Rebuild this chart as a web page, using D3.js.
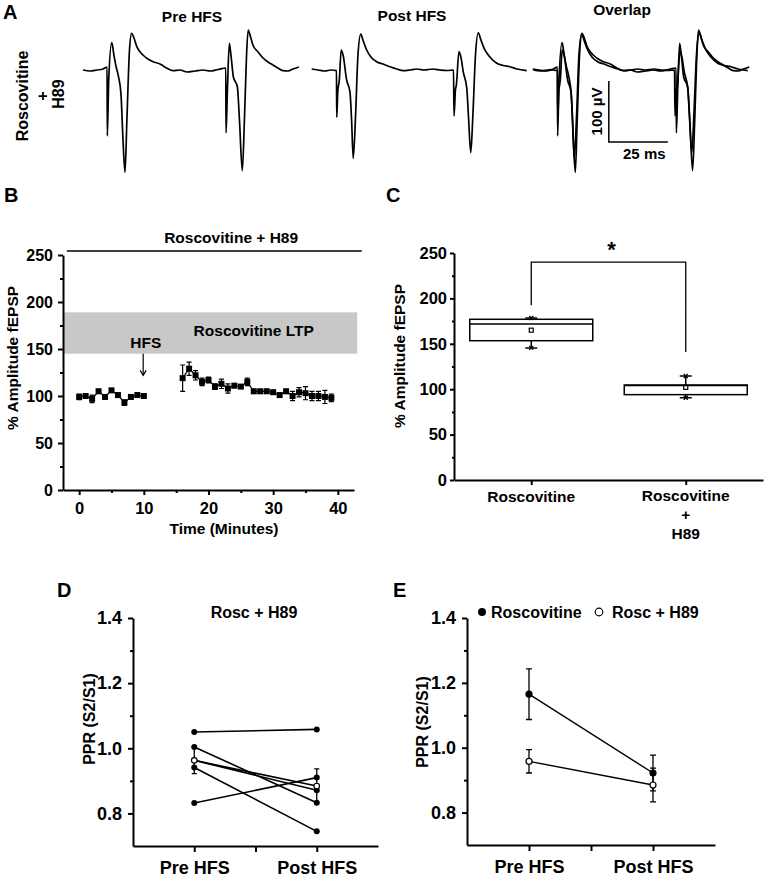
<!DOCTYPE html>
<html><head><meta charset="utf-8">
<script src="https://cdn.jsdelivr.net/npm/d3@7"></script>
<style>
body{margin:0;background:#fff;}
svg{display:block;font-family:"Liberation Sans",Arial,Helvetica,sans-serif;font-weight:bold;}
</style></head><body>
<svg id="fig" width="765" height="877"></svg>
<script>
// ---------------- DATA ----------------
// Panel A: field potential traces, [time ms, amplitude µV]
const preHFSTrace = [[0,0],[3.0,-1.6],[5.9,0],[8.5,1.6],[10.2,4.9],[10.3,-108],[10.9,-16],[12.2,44.8],[13.1,24.6],[14.0,6],[15.0,-10],[16.1,-40],[16.9,-110],[17.8,-168],[18.6,-82],[19.7,32.8],[20.6,60.2],[21.6,52.5],[22.8,38.2],[24.2,29.5],[25.4,24.6],[27.5,18.0],[29.7,13.6],[32.6,9.8],[35.6,2.8],[38.1,-1.1],[41.1,0],[44.1,-3.3],[47.5,-1.6],[50.8,0],[53.8,-1.6],[57.2,0.8],[60.5,3.3],[60.6,-103],[61.2,-32.8],[62.0,43.8],[62.7,24.6],[63.7,-11],[65.4,-27.4],[66.3,-82],[67.5,-165],[68.4,-82],[69.3,24.6],[70.0,65.6],[71.0,54.1],[72.0,41],[74.2,29.5],[76.3,19.7],[78.4,13.1],[80.5,8.2],[82.6,3.3],[84.7,-1.1],[86.9,-1.6],[89.0,1.6],[91.5,4.9]];
const postHFSTrace = [[0,1.6],[2.7,0],[5.6,-1.6],[8.2,0],[10.5,-1.1],[10.6,-77.5],[11.1,-32.8],[11.4,-24.6],[11.7,-16.4],[12.5,32.8],[13.3,24.6],[14.8,-16.4],[16.2,-35.6],[16.9,-82],[17.6,-144.8],[18.6,-73.8],[19.6,24.6],[20.8,59],[21.7,49.2],[23.3,32.8],[25.1,21.3],[27.5,13.6],[30.2,9.8],[33.2,5.4],[36.1,1.6],[38.7,-1.1],[41.7,0],[44.4,1.6],[47.6,0],[51.4,1.6],[54.4,0],[57.3,-0.8],[60.1,0],[60.3,-75.4],[60.9,-32.8],[61.3,-24.6],[62.4,30],[63.3,19.7],[64.2,-2.8],[65.7,-29.5],[66.4,-73.8],[67.4,-135.6],[68.3,-73.8],[69.4,24.6],[70.6,61.1],[71.7,49.2],[73.4,32.8],[75.5,21.3],[78.4,11],[81.1,7.4],[84,5.4],[87,1.6],[91.1,-1.1]];
const scaleBarMs = [32, 57];      // 25 ms
const scaleBarUv = [-18, -118];   // 100 µV

// Panel B: time course
const bPreTime = [0,1,2,3,4,5,6,7,8,9,10];
const bPreAmp  = [99,100,97,105,99,106,101,93,99,101,100];
const bPreErr  = [3,2,4,2,2,2,2,3,2,2,2];
const bPostTime = [16,17,18,19,20,21,22,23,24,25,26,27,28,29,30,31,32,33,34,35,36,37,38,39];
const bPostAmp  = [119,129,122,115,117,110,113,108,111,110,115,105,105,105,104,101,105,100,104,103,100,100,99,98];
const bPostErr  = [14,7,5,4,3,3,5,5,2,2,4,2,2,2,2,2,2,5,5,7,5,5,7,4];
const bLTPBand = [145, 189];
const bYTicks = [0,50,100,150,200,250];
const bXTicks = [0,10,20,30,40];

// Panel C: box plot
const cCategories = ["Roscovitine", "Roscovitine + H89"];
const cMin    = [145.5, 90.5];
const cQ1     = [153.4, 94];
const cMedian = [171.8, 104];
const cQ3     = [177, 104.6];
const cMax    = [178.5, 114.5];
const cMean   = [165, 102];
const cYTicks = [0,50,100,150,200,250];

// Panel D: individual PPR
const ppCategories = ["Pre HFS", "Post HFS"];
const dPre  = [1.050, 1.004, 0.963, 0.941, 0.832];
const dPost = [1.058, 0.833, 0.871, 0.745, 0.910];
const dMean = [0.963, 0.884];
const dSem  = [0.041, 0.053];
// Panel E: mean PPR
const eRoscMean = [1.165, 0.922];
const eRoscSem  = [0.078, 0.055];
const eH89Mean  = [0.958, 0.885];
const eH89Sem   = [0.036, 0.052];
const pprTicks = [0.8, 1.0, 1.2, 1.4];

// ---------------- DRAWING ----------------
const svg = d3.select("#fig");
const FONT = '"Liberation Sans",Arial,Helvetica,sans-serif';

function txt(x, y, s, size, anchor, rot) {
  const t = svg.append("text").attr("x", x).attr("y", y).text(s)
    .attr("font-size", size).attr("font-weight", "bold").attr("fill", "#000")
    .attr("text-anchor", anchor || "middle");
  if (rot) t.attr("transform", `rotate(${rot},${x},${y})`);
  return t;
}
function styleAxis(g, size) {
  g.attr("font-family", null).attr("font-size", null);
  g.select(".domain").attr("stroke-width", 2).attr("stroke", "#000");
  g.selectAll(".tick line").attr("stroke-width", 2).attr("stroke", "#000");
  g.selectAll(".tick text").attr("font-size", size).attr("font-weight", "bold").attr("fill", "#000").attr("font-family", FONT);
}
function minor(g) { g.select(".domain").remove(); g.selectAll(".tick line").attr("stroke-width", 2).attr("stroke","#000"); }

// Panel letters
txt(3, 19, "A", 20, "start");
txt(4, 202, "B", 20, "start");
txt(386, 202, "C", 20, "start");
txt(57, 597, "D", 20, "start");
txt(393, 597, "E", 20, "start");

// ---- Panel A ----
txt(22, 96, "Roscovitine", 16, "middle", -90).attr("dominant-baseline", "central");
txt(42, 96, "+", 16, "middle", -90).attr("dominant-baseline", "central");
txt(58, 94, "H89", 16, "middle", -90).attr("dominant-baseline", "central");
txt(192, 22, "Pre HFS", 15.5);
txt(412, 21, "Post HFS", 15.5);
txt(622, 15, "Overlap", 15.5);

const pxPerMs = 59 / 25, pxPerUv = 61 / 100, baseY = 70;
function traceScales(x0) {
  return {
    x: d3.scaleLinear().domain([0, 100]).range([x0, x0 + 100 * pxPerMs]),
    y: d3.scaleLinear().domain([0, -100]).range([baseY, baseY + 100 * pxPerUv])
  };
}
function drawTrace(data, x0) {
  const s = traceScales(x0);
  svg.append("path").datum(data)
    .attr("d", d3.line().curve(d3.curveMonotoneX).x(d => s.x(d[0])).y(d => s.y(d[1])))
    .attr("fill", "none").attr("stroke", "#000").attr("stroke-width", 1.7)
    .attr("stroke-linejoin", "round");
}
drawTrace(preHFSTrace, 83);
drawTrace(postHFSTrace, 311.7);
drawTrace(postHFSTrace, 532.7);
drawTrace(preHFSTrace, 533.3);
{
  const s = traceScales(533.3);
  svg.append("path")
    .attr("d", `M${s.x(scaleBarMs[0])},${s.y(scaleBarUv[0])}V${s.y(scaleBarUv[1])}H${s.x(scaleBarMs[1])}`)
    .attr("fill", "none").attr("stroke", "#000").attr("stroke-width", 1.5);
  txt(s.x(scaleBarMs[0]) - 12, (s.y(scaleBarUv[0]) + s.y(scaleBarUv[1])) / 2, "100 \u00B5V", 15, "middle", -90).attr("dominant-baseline", "central");
  txt((s.x(scaleBarMs[0]) + s.x(scaleBarMs[1])) / 2 + 6, s.y(scaleBarUv[1]) + 17, "25 ms", 15);
}

// ---- Panel B ----
{
  const x = d3.scaleLinear().domain([-2.5, 42.5]).range([63, 354]);
  const y = d3.scaleLinear().domain([0, 250]).range([490, 255]);
  svg.append("rect").attr("x", x(-2.5)).attr("width", x(43) - x(-2.5))
    .attr("y", y(bLTPBand[1])).attr("height", y(bLTPBand[0]) - y(bLTPBand[1]))
    .attr("fill", "#c8c8c8");
  txt(x(27), y(170) + 6, "Roscovitine LTP", 15.5);
  txt(x(10.3), y(157) + 6, "HFS", 15.5);
  svg.append("line").attr("x1", x(9.9)).attr("x2", x(9.9)).attr("y1", y(145)).attr("y2", y(122))
    .attr("stroke", "#000").attr("stroke-width", 1.2);
  svg.append("path").attr("d", `M${x(9.9)-3},${y(122)-5}L${x(9.9)},${y(122)}L${x(9.9)+3},${y(122)-5}`)
    .attr("fill", "none").attr("stroke", "#000").attr("stroke-width", 1.2);
  txt(x(23.5), 243, "Roscovitine + H89", 15.5);
  svg.append("line").attr("x1", x(-1.9)).attr("x2", x(43.7)).attr("y1", 251).attr("y2", 251)
    .attr("stroke", "#000").attr("stroke-width", 1.5);
  const gy = svg.append("g").attr("transform", `translate(${x(-2.5)},0)`)
    .call(d3.axisLeft(y).tickValues(bYTicks).tickSize(5).tickPadding(5).tickSizeOuter(0));
  styleAxis(gy, 16);
  minor(svg.append("g").attr("transform", `translate(${x(-2.5)},0)`)
    .call(d3.axisLeft(y).tickValues([25,75,125,175,225]).tickSize(3).tickFormat("")));
  const gx = svg.append("g").attr("transform", `translate(0,${y(0)})`)
    .call(d3.axisBottom(x).tickValues(bXTicks).tickSize(5).tickPadding(7).tickSizeOuter(0));
  styleAxis(gx, 16.5);
  minor(svg.append("g").attr("transform", `translate(0,${y(0)})`)
    .call(d3.axisBottom(x).tickValues([5,15,25,35]).tickSize(3).tickFormat("")));
  txt(224, 534, "Time (Minutes)", 15.5);
  txt(12, 358, "% Amplitude fEPSP", 15.5, "middle", -90).attr("dominant-baseline", "central");
  function series(ts, vs, es) {
    const pts = ts.map((t, i) => ({ t, v: vs[i], e: es[i] }));
    svg.append("path").datum(pts).attr("d", d3.line().x(d => x(d.t)).y(d => y(d.v)))
      .attr("fill", "none").attr("stroke", "#000").attr("stroke-width", 1.2);
    const g = svg.append("g");
    pts.forEach(d => {
      g.append("path").attr("d",
        `M${x(d.t)},${y(d.v + d.e)}V${y(d.v - d.e)}M${x(d.t)-2.5},${y(d.v + d.e)}H${x(d.t)+2.5}M${x(d.t)-2.5},${y(d.v - d.e)}H${x(d.t)+2.5}`)
        .attr("stroke", "#000").attr("stroke-width", 1.2).attr("fill", "none");
      g.append("rect").attr("x", x(d.t) - 3).attr("y", y(d.v) - 3).attr("width", 6).attr("height", 6).attr("fill", "#000");
    });
  }
  series(bPreTime, bPreAmp, bPreErr);
  series(bPostTime, bPostAmp, bPostErr);
}

// ---- Panel C ----
{
  const x = d3.scalePoint().domain(cCategories).range([454, 763]).padding(0.5);
  const y = d3.scaleLinear().domain([0, 250]).range([480, 253]);
  const bw = 123;
  cCategories.forEach((c, i) => {
    const cx = x(c);
    const g = svg.append("g").attr("stroke", "#000").attr("fill", "none").attr("stroke-width", 1.5);
    g.append("path").attr("d", `M${cx},${y(cQ3[i])}V${y(cMax[i])}M${cx},${y(cQ1[i])}V${y(cMin[i])}`);
    g.append("path").attr("d", `M${cx-6},${y(cMax[i])}H${cx+6}M${cx-6},${y(cMin[i])}H${cx+6}`);
    g.append("rect").attr("x", cx - bw / 2).attr("width", bw).attr("y", y(cQ3[i])).attr("height", y(cQ1[i]) - y(cQ3[i])).attr("fill", "#fff");
    g.append("line").attr("x1", cx - bw / 2).attr("x2", cx + bw / 2).attr("y1", y(cMedian[i])).attr("y2", y(cMedian[i]));
    [cMin[i], cMax[i]].forEach(v => {
      g.append("path").attr("d", `M${cx-2},${y(v)-2}L${cx+2},${y(v)+2}M${cx-2},${y(v)+2}L${cx+2},${y(v)-2}`).attr("stroke-width", 1.3);
    });
    g.append("rect").attr("x", cx - 2).attr("y", y(cMean[i]) - 2).attr("width", 4).attr("height", 4).attr("stroke-width", 1.2);
  });
  svg.append("path").attr("d", `M${x(cCategories[0])},${y(192.5)}V${y(240)}H${x(cCategories[1])}V${y(141)}`)
    .attr("fill", "none").attr("stroke", "#000").attr("stroke-width", 1.3);
  txt((x(cCategories[0]) + x(cCategories[1])) / 2 + 3, 257, "*", 22);
  const gy = svg.append("g").attr("transform", "translate(454,0)")
    .call(d3.axisLeft(y).tickValues(cYTicks).tickSize(4).tickPadding(3).tickSizeOuter(0));
  styleAxis(gy, 16.5);
  minor(svg.append("g").attr("transform", "translate(454,0)")
    .call(d3.axisLeft(y).tickValues([25,75,125,175,225]).tickSize(2).tickFormat("")));
  const gx = svg.append("g").attr("transform", `translate(0,${y(0)})`)
    .call(d3.axisBottom(x).tickSize(5).tickFormat("").tickSizeOuter(0));
  styleAxis(gx, 16);
  txt(x(cCategories[0]), 502, "Roscovitine", 15.5);
  txt(x(cCategories[1]), 501, "Roscovitine", 15.5);
  txt(x(cCategories[1]), 520, "+", 15.5);
  txt(x(cCategories[1]), 539, "H89", 15.5);
  txt(399, 356, "% Amplitude fEPSP", 15.5, "middle", -90).attr("dominant-baseline", "central");
}

// ---- Panels D & E shared ----
function pprAxes(x0, x1, y0) {
  const x = d3.scaleLinear().domain([0.5, 2.5]).range([x0, x1]);
  const y = d3.scaleLinear().domain([0.7, 1.4]).range([y0, 618]);
  const gy = svg.append("g").attr("transform", `translate(${x0},0)`)
    .call(d3.axisLeft(y).tickValues(pprTicks).tickFormat(d3.format(".1f")).tickSize(5).tickPadding(6).tickSizeOuter(0));
  styleAxis(gy, 18);
  minor(svg.append("g").attr("transform", `translate(${x0},0)`)
    .call(d3.axisLeft(y).tickValues([0.9,1.1,1.3]).tickSize(3).tickFormat("")));
  const gx = svg.append("g").attr("transform", `translate(0,${y0})`)
    .call(d3.axisBottom(x).tickValues([1, 1.5, 2]).tickSize(6).tickPadding(9).tickSizeOuter(0)
      .tickFormat(d => d === 1 ? ppCategories[0] : d === 2 ? ppCategories[1] : ""));
  styleAxis(gx, 18);
  return { x, y };
}
function errBar(x, y, xi, m, e, w) {
  svg.append("path").attr("d",
    `M${x(xi)},${y(m + e)}V${y(m - e)}M${x(xi)-w},${y(m + e)}H${x(xi)+w}M${x(xi)-w},${y(m - e)}H${x(xi)+w}`)
    .attr("stroke", "#000").attr("stroke-width", 1.3).attr("fill", "none");
}

// ---- Panel D ----
{
  const { x, y } = pprAxes(133, 378, 846);
  dPre.forEach((v, i) => {
    svg.append("line").attr("x1", x(1)).attr("y1", y(v)).attr("x2", x(2)).attr("y2", y(dPost[i]))
      .attr("stroke", "#000").attr("stroke-width", 1.6);
  });
  svg.append("line").attr("x1", x(1)).attr("y1", y(dMean[0])).attr("x2", x(2)).attr("y2", y(dMean[1]))
    .attr("stroke", "#000").attr("stroke-width", 1.6);
  [0, 1].forEach(i => errBar(x, y, i + 1, dMean[i], dSem[i], 2.5));
  dPre.forEach((v, i) => {
    svg.append("circle").attr("cx", x(1)).attr("cy", y(v)).attr("r", 3).attr("fill", "#000");
    svg.append("circle").attr("cx", x(2)).attr("cy", y(dPost[i])).attr("r", 3).attr("fill", "#000");
  });
  [0, 1].forEach(i => svg.append("circle").attr("cx", x(i + 1)).attr("cy", y(dMean[i])).attr("r", 2.8)
    .attr("fill", "#fff").attr("stroke", "#000").attr("stroke-width", 1.2));
  txt(254, 618, "Rosc + H89", 16);
  txt(89, 719, "PPR (S2/S1)", 16, "middle", -90).attr("dominant-baseline", "central");
}

// ---- Panel E ----
{
  const { x, y } = pprAxes(467, 715, 845);
  [[eRoscMean, eRoscSem], [eH89Mean, eH89Sem]].forEach(([m, s]) => {
    svg.append("line").attr("x1", x(1)).attr("y1", y(m[0])).attr("x2", x(2)).attr("y2", y(m[1]))
      .attr("stroke", "#000").attr("stroke-width", 1.4);
    [0, 1].forEach(i => errBar(x, y, i + 1, m[i], s[i], 3));
  });
  [[eRoscMean, "#000"], [eH89Mean, "#fff"]].forEach(([m, fill]) => {
    [0, 1].forEach(i => svg.append("circle").attr("cx", x(i + 1)).attr("cy", y(m[i])).attr("r", 3)
      .attr("fill", fill).attr("stroke", "#000").attr("stroke-width", 1.2));
  });
  svg.append("circle").attr("cx", 482).attr("cy", 612).attr("r", 4).attr("fill", "#000");
  txt(491, 618, "Roscovitine", 16, "start");
  svg.append("circle").attr("cx", 599).attr("cy", 612).attr("r", 3.8).attr("fill", "#fff").attr("stroke", "#000").attr("stroke-width", 1.2);
  txt(612, 618, "Rosc + H89", 16, "start");
  txt(422, 722, "PPR (S2/S1)", 16, "middle", -90).attr("dominant-baseline", "central");
}
</script>
</body></html>
